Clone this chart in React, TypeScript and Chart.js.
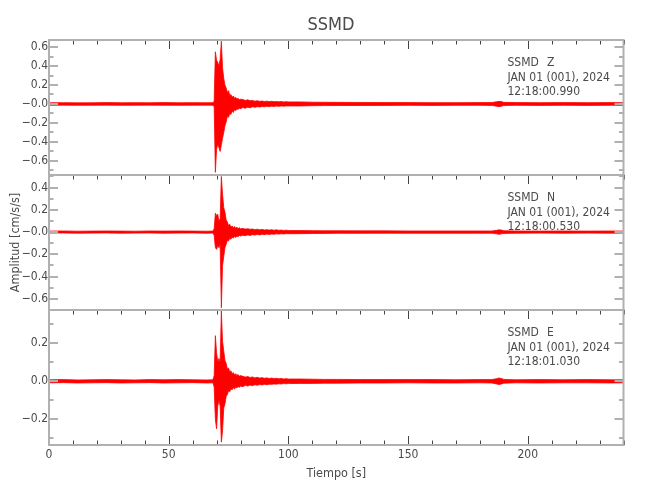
import React, { useEffect, useRef } from 'react';
import { Chart, registerables } from 'chart.js';

Chart.register(...registerables);

// ---------- DATA ----------
// time grid in seconds (shared by the three components)
const times = [
  0, 6, 12, 18, 24, 30, 36, 42, 48, 54, 60, 66, 68.5,
  69, 69.5, 70, 70.5, 71, 71.5, 72, 72.5, 73, 73.5, 74, 74.5, 75, 75.5, 76, 76.5, 77, 77.5, 78, 78.5, 79, 79.5, 80,
  81, 82, 83, 84, 85, 86, 87, 88, 89, 90, 91, 92, 93, 94, 95, 96, 97, 98, 99, 100,
  105, 110, 115, 120, 130, 140, 150, 160, 170, 180, 185,
  187, 188, 189, 190,
  195, 205, 215, 225, 235, 240,
];

// envelope (upper / lower) of each trace, cm/s/s
const zUpper = [
  0.013, 0.014, 0.012, 0.013, 0.015, 0.013, 0.014, 0.013, 0.015, 0.013, 0.014, 0.013, 0.014,
  0.03, 0.55, 0.46, 0.44, 0.4, 0.47, 0.66, 0.38, 0.27, 0.2, 0.17, 0.12, 0.14, 0.09, 0.1, 0.07, 0.085, 0.06, 0.07, 0.05, 0.06, 0.045, 0.05,
  0.048, 0.038, 0.044, 0.035, 0.038, 0.03, 0.034, 0.028, 0.031, 0.027, 0.03, 0.025, 0.028, 0.024, 0.027, 0.023, 0.026, 0.022, 0.024, 0.022,
  0.022, 0.019, 0.018, 0.017, 0.016, 0.015, 0.015, 0.014, 0.014, 0.015, 0.015,
  0.024, 0.028, 0.025, 0.017,
  0.015, 0.014, 0.015, 0.014, 0.015, 0.014,
];
const zLower = [
  -0.013, -0.012, -0.014, -0.013, -0.012, -0.014, -0.013, -0.012, -0.013, -0.014, -0.013, -0.012, -0.013,
  -0.03, -0.72, -0.48, -0.42, -0.46, -0.5, -0.43, -0.36, -0.3, -0.23, -0.19, -0.13, -0.14, -0.1, -0.11, -0.075, -0.09, -0.06, -0.07, -0.05, -0.058, -0.045, -0.05,
  -0.038, -0.045, -0.034, -0.04, -0.03, -0.035, -0.028, -0.032, -0.026, -0.03, -0.025, -0.028, -0.023, -0.026, -0.022, -0.025, -0.021, -0.023, -0.02, -0.021,
  -0.021, -0.018, -0.017, -0.016, -0.016, -0.015, -0.014, -0.015, -0.014, -0.014, -0.015,
  -0.024, -0.028, -0.024, -0.016,
  -0.014, -0.015, -0.014, -0.015, -0.014, -0.014,
];
const nUpper = [
  0.009, 0.01, 0.008, 0.009, 0.01, 0.009, 0.008, 0.01, 0.009, 0.01, 0.009, 0.008, 0.009,
  0.03, 0.17, 0.15, 0.16, 0.1, 0.12, 0.5, 0.34, 0.22, 0.18, 0.11, 0.09, 0.06, 0.07, 0.045, 0.055, 0.04, 0.05, 0.035, 0.044, 0.032, 0.04, 0.03,
  0.033, 0.027, 0.03, 0.025, 0.028, 0.022, 0.026, 0.02, 0.024, 0.019, 0.022, 0.018, 0.021, 0.017, 0.02, 0.016, 0.018, 0.015, 0.017, 0.014,
  0.014, 0.013, 0.012, 0.012, 0.011, 0.011, 0.01, 0.01, 0.01, 0.01, 0.01,
  0.016, 0.02, 0.018, 0.012,
  0.01, 0.009, 0.01, 0.009, 0.01, 0.009,
];
const nLower = [
  -0.009, -0.008, -0.01, -0.009, -0.008, -0.01, -0.009, -0.008, -0.01, -0.009, -0.008, -0.01, -0.009,
  -0.03, -0.14, -0.155, -0.12, -0.14, -0.11, -0.68, -0.3, -0.22, -0.14, -0.11, -0.075, -0.08, -0.055, -0.065, -0.045, -0.055, -0.038, -0.048, -0.034, -0.042, -0.03, -0.036,
  -0.028, -0.032, -0.025, -0.03, -0.023, -0.027, -0.021, -0.025, -0.019, -0.023, -0.018, -0.021, -0.017, -0.02, -0.016, -0.018, -0.015, -0.017, -0.014, -0.015,
  -0.014, -0.013, -0.012, -0.011, -0.011, -0.01, -0.01, -0.01, -0.01, -0.01, -0.01,
  -0.016, -0.02, -0.016, -0.012,
  -0.01, -0.009, -0.01, -0.009, -0.01, -0.009,
];
const eUpper = [
  0.008, 0.009, 0.007, 0.008, 0.009, 0.008, 0.007, 0.009, 0.008, 0.009, 0.008, 0.007, 0.008,
  0.03, 0.24, 0.15, 0.1, 0.12, 0.1, 0.37, 0.21, 0.16, 0.11, 0.095, 0.065, 0.07, 0.05, 0.055, 0.04, 0.046, 0.033, 0.04, 0.03, 0.036, 0.027, 0.03,
  0.026, 0.022, 0.025, 0.02, 0.023, 0.018, 0.021, 0.017, 0.019, 0.016, 0.018, 0.015, 0.017, 0.014, 0.016, 0.013, 0.015, 0.012, 0.014, 0.012,
  0.012, 0.011, 0.01, 0.01, 0.009, 0.009, 0.009, 0.009, 0.008, 0.009, 0.009,
  0.014, 0.017, 0.015, 0.01,
  0.008, 0.009, 0.008, 0.009, 0.008, 0.008,
];
const eLower = [
  -0.008, -0.007, -0.009, -0.008, -0.007, -0.009, -0.008, -0.007, -0.009, -0.008, -0.007, -0.009, -0.008,
  -0.03, -0.2, -0.25, -0.13, -0.1, -0.13, -0.32, -0.26, -0.14, -0.12, -0.08, -0.07, -0.05, -0.055, -0.04, -0.045, -0.034, -0.04, -0.03, -0.035, -0.027, -0.032, -0.025,
  -0.028, -0.021, -0.025, -0.02, -0.023, -0.018, -0.021, -0.017, -0.019, -0.016, -0.018, -0.015, -0.016, -0.014, -0.015, -0.013, -0.014, -0.012, -0.013, -0.012,
  -0.011, -0.011, -0.01, -0.01, -0.009, -0.009, -0.008, -0.009, -0.009, -0.008, -0.009,
  -0.014, -0.017, -0.014, -0.01,
  -0.008, -0.009, -0.008, -0.008, -0.009, -0.008,
];

const components = ['Z', 'N', 'E'];
const stationName = 'SSMD';
const dateLabel = 'JAN 01 (001), 2024';
const startTimes = ['12:18:00.990', '12:18:00.530', '12:18:01.030'];
const yMins = [-0.748, -0.7, -0.335];
const yMaxs = [0.674, 0.513, 0.375];
const zeroLabels = ['\u22120.0', '\u22120.0', '0.0'];
const xMin = 0;
const xMax = 240;
const titleText = 'SSMD';
const xTitle = 'Tiempo [s]';
const yTitle = 'Amplitud [cm/s/s]';

const uppers = [zUpper, nUpper, eUpper];
const lowers = [zLower, nLower, eLower];
const axisIds = ['yZ', 'yN', 'yE'];

const FONT = "'DejaVu Sans Condensed', 'Liberation Sans Narrow', 'Liberation Sans', sans-serif";
const TEXT = '#4a4a4a';
const FRAME = '#b0b0b0';
const TRACE = '#ff0000';

function fmtY(v: number, i: number): string {
  const r = Math.round(v / 0.2);
  if (Math.abs(v - r * 0.2) > 1e-6) return '';
  if (r === 0) return zeroLabels[i];
  const s = Math.abs(r * 0.2).toFixed(1);
  return r < 0 ? '\u2212' + s : s;
}

const framePlugin = {
  id: 'seisFrame',
  afterDraw(chart: any) {
    const ctx = chart.ctx as CanvasRenderingContext2D;
    const area = chart.chartArea;
    const xs = chart.scales.x;
    ctx.save();
    axisIds.forEach((id, i) => {
      const ys = chart.scales[id];
      const top = ys.top;
      const bottom = ys.bottom;
      // y ticks (left & right)
      ctx.strokeStyle = FRAME;
      ctx.lineWidth = 2;
      const k0 = Math.ceil(yMins[i] * 10 - 1e-9);
      const k1 = Math.floor(yMaxs[i] * 10 + 1e-9);
      for (let k = k0; k <= k1; k++) {
        const py = Math.round(ys.getPixelForValue(k / 10));
        const len = k % 2 === 0 ? 9 : 4.5;
        ctx.beginPath();
        ctx.moveTo(area.left, py);
        ctx.lineTo(area.left + len, py);
        ctx.moveTo(area.right, py);
        ctx.lineTo(area.right - len, py);
        ctx.stroke();
      }
      // x ticks
      ctx.strokeStyle = '#444';
      ctx.lineWidth = 1;
      for (let t = xMin; t <= xMax; t += 10) {
        const px = Math.round(xs.getPixelForValue(t)) + 0.5;
        const len = t % 50 === 0 ? 9 : 4.5;
        ctx.beginPath();
        ctx.moveTo(px, top);
        ctx.lineTo(px, top + len);
        if (i === axisIds.length - 1) {
          ctx.moveTo(px, bottom);
          ctx.lineTo(px, bottom - len);
        }
        ctx.stroke();
      }
      // frame
      ctx.strokeStyle = FRAME;
      ctx.lineWidth = 2;
      ctx.strokeRect(area.left, top, area.right - area.left, bottom - top);
      // annotation
      ctx.fillStyle = TEXT;
      ctx.font = `12px ${FONT}`;
      ctx.textAlign = 'left';
      ctx.textBaseline = 'alphabetic';
      ctx.fillText(stationName, 507.5, top + 26);
      ctx.fillText(components[i], 547, top + 26);
      ctx.fillText(dateLabel, 507.5, top + 40.5);
      ctx.fillText(startTimes[i], 507.5, top + 54.5);
    });
    // titles
    ctx.fillStyle = TEXT;
    ctx.textAlign = 'center';
    ctx.textBaseline = 'alphabetic';
    ctx.font = `18px ${FONT}`;
    ctx.fillText(titleText, 331, 30);
    ctx.font = `12.5px ${FONT}`;
    ctx.fillText(xTitle, (area.left + area.right) / 2, 476.5);
    ctx.save();
    ctx.translate(18.5, (area.top + area.bottom) / 2);
    ctx.rotate(-Math.PI / 2);
    ctx.fillText(yTitle, 0, 0);
    ctx.restore();
    ctx.restore();
  },
};

export default function App() {
  const ref = useRef<HTMLCanvasElement>(null);
  useEffect(() => {
    const datasets: any[] = [];
    axisIds.forEach((id, i) => {
      datasets.push({
        label: components[i] + ' low',
        data: times.map((t, j) => ({ x: t, y: lowers[i][j] })),
        yAxisID: id,
        borderColor: TRACE,
        borderWidth: 0.8,
        pointRadius: 0,
        fill: false,
        tension: 0,
      });
      datasets.push({
        label: components[i] + ' high',
        data: times.map((t, j) => ({ x: t, y: uppers[i][j] })),
        yAxisID: id,
        borderColor: TRACE,
        backgroundColor: TRACE,
        borderWidth: 0.8,
        pointRadius: 0,
        fill: '-1',
        tension: 0,
      });
    });
    const yScale = (i: number) => ({
      type: 'linear',
      position: 'left',
      stack: 'seis',
      stackWeight: 1,
      weight: 3 - i,
      min: yMins[i],
      max: yMaxs[i],
      grid: { display: false, drawTicks: false },
      border: { display: false },
      afterBuildTicks: (s: any) => {
        const out: any[] = [];
        const k0 = Math.ceil(yMins[i] / 0.2 - 1e-9);
        const k1 = Math.floor(yMaxs[i] / 0.2 + 1e-9);
        for (let k = k0; k <= k1; k++) out.push({ value: Math.round(k * 0.2 * 10) / 10 });
        s.ticks = out;
      },
      ticks: {
        autoSkip: false,
        padding: 1,
        color: TEXT,
        font: { family: FONT, size: 12 },
        callback: (v: any) => fmtY(Number(v), i),
      },
      afterFit: (s: any) => {
        s.width = 49;
      },
    });
    const chart = new Chart(ref.current as HTMLCanvasElement, {
      type: 'line',
      data: { datasets },
      plugins: [framePlugin],
      options: {
        animation: false,
        responsive: false,
        devicePixelRatio: 1,
        layout: { padding: { top: 40, right: 26.5, left: 0, bottom: 0 } },
        plugins: { legend: { display: false }, tooltip: { enabled: false }, title: { display: false } },
        scales: {
          x: {
            type: 'linear',
            position: 'bottom',
            min: xMin,
            max: xMax,
            grid: { display: false, drawTicks: false },
            border: { display: false },
            afterBuildTicks: (s: any) => {
              const out: any[] = [];
              for (let t = xMin; t <= xMax; t += 50) out.push({ value: t });
              s.ticks = out;
            },
            ticks: {
              autoSkip: false,
              maxRotation: 0,
              padding: 3,
              color: TEXT,
              font: { family: FONT, size: 12 },
              callback: (v: any) => String(v),
            },
            afterFit: (s: any) => {
              s.height = 55;
            },
          },
          yZ: yScale(0),
          yN: yScale(1),
          yE: yScale(2),
        } as any,
      },
    } as any);
    return () => chart.destroy();
  }, []);
  return (
    <div style={{ position: 'absolute', left: 0, top: 0, width: 650, height: 500, background: '#fff' }}>
      <canvas ref={ref} width={650} height={500} style={{ display: 'block', width: 650, height: 500 }} />
    </div>
  );
}
